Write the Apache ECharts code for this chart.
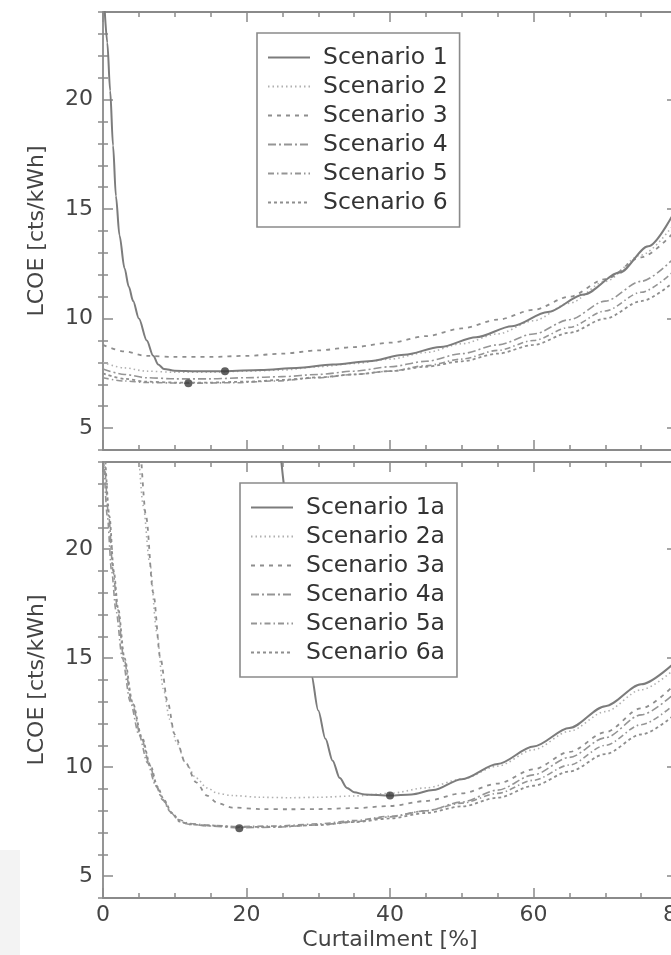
<!DOCTYPE html>
<html>
<head>
<meta charset="utf-8">
<script src="https://cdn.jsdelivr.net/npm/echarts@6/dist/echarts.min.js"></script>
<style>html,body{margin:0;padding:0;background:#fff}#c{width:671px;height:955px}</style>
</head>
<body>
<div id="c"></div>
<script>
// ---- data ----
const topNames = ['Scenario 1','Scenario 2','Scenario 3','Scenario 4','Scenario 5','Scenario 6'];
const botNames = ['Scenario 1a','Scenario 2a','Scenario 3a','Scenario 4a','Scenario 5a','Scenario 6a'];
const xTicks = [0, 20, 40, 60, 80];
const yMajor = [5, 10, 15, 20];
const yMinor = [4,6,7,8,9,11,12,13,14,16,17,18,19,21,22,23,24];

const top_s1 = [[0.2,24.3],[0.6,22.6],[1.0,20.4],[1.4,17.9],[1.8,15.6],[2.3,13.8],[3.0,12.3],[3.6,11.45],[4.2,10.8],[5,10.0],[6.1,9.0],[7,8.3],[7.7,7.9],[8.5,7.7],[10,7.62],[13,7.6],[17,7.6],[22,7.65],[27,7.75],[32,7.9],[37,8.05],[42,8.35],[47,8.7],[52,9.15],[57,9.65],[62,10.3],[67,11.1],[72,12.1],[76,13.3],[80,15.1]];
const top_s2 = [[0,8.0],[3,7.75],[6,7.6],[10,7.55],[15,7.55],[20,7.6],[25,7.65],[30,7.8],[35,7.95],[40,8.15],[45,8.45],[50,8.85],[55,9.3],[60,9.9],[65,10.7],[70,11.7],[75,12.9],[80,14.5]];
const top_s3 = [[0,8.8],[3,8.5],[6,8.3],[10,8.25],[15,8.25],[20,8.3],[25,8.4],[30,8.55],[35,8.7],[40,8.9],[45,9.2],[50,9.55],[55,9.95],[60,10.4],[65,11.0],[70,11.8],[75,12.8],[80,14.1]];
const top_s4 = [[0,7.7],[3,7.45],[6,7.3],[10,7.25],[15,7.25],[20,7.3],[25,7.35],[30,7.45],[35,7.6],[40,7.8],[45,8.05],[50,8.4],[55,8.8],[60,9.3],[65,9.95],[70,10.8],[75,11.7],[80,12.9]];
const top_s5 = [[0,7.3],[3,7.15],[6,7.08],[12,7.05],[18,7.07],[24,7.15],[30,7.3],[35,7.45],[40,7.6],[45,7.85],[50,8.15],[55,8.55],[60,9.0],[65,9.6],[70,10.35],[75,11.2],[80,12.3]];
const top_s6 = [[0,7.5],[3,7.25],[6,7.12],[10,7.08],[15,7.08],[20,7.12],[25,7.2],[30,7.32],[35,7.45],[40,7.6],[45,7.8],[50,8.05],[55,8.4],[60,8.8],[65,9.35],[70,10.0],[75,10.8],[80,11.8]];
const top_min = [[17,7.6],[11.9,7.05]];

const bot_s1 = [[24.8,24.2],[26,21.4],[27,19.0],[28,16.6],[29,14.3],[30,12.6],[31,11.3],[32,10.3],[33,9.5],[34,9.05],[35,8.85],[36.5,8.75],[40,8.7],[43,8.75],[46,8.95],[50,9.45],[55,10.15],[60,10.95],[65,11.8],[70,12.8],[75,13.8],[80,14.9]];
const bot_s2 = [[5.0,24.3],[5.6,22],[6.5,19.4],[7.5,16.2],[8.4,13.6],[9.3,12.2],[10.3,11.1],[11.5,10.2],[13,9.5],[14.5,9.05],[16,8.8],[18,8.7],[22,8.62],[26,8.6],[30,8.62],[35,8.68],[40,8.8],[45,9.05],[50,9.45],[55,10.05],[60,10.8],[65,11.65],[70,12.55],[75,13.55],[80,14.6]];
const bot_s3 = [[5.3,24.3],[6,21.5],[7,18],[8,15],[9,13],[10,11.5],[11.5,10.2],[13,9.3],[14.5,8.7],[16,8.35],[18,8.15],[22,8.08],[26,8.07],[30,8.08],[35,8.12],[40,8.22],[45,8.45],[50,8.8],[55,9.25],[60,9.9],[65,10.7],[70,11.6],[75,12.7],[80,13.9]];
const bot_s4 = [[0.2,24.3],[0.8,21.5],[1.4,19],[2,17.3],[2.9,15],[4,13],[5.3,11.4],[6.5,10.1],[7.5,9.1],[8.4,8.5],[9.5,7.9],[10.7,7.5],[12,7.38],[15,7.3],[19,7.22],[24,7.25],[30,7.35],[35,7.5],[40,7.72],[45,8.0],[50,8.4],[55,8.95],[60,9.65],[65,10.45],[70,11.35],[75,12.4],[80,13.5]];
const bot_s5 = [[0.1,24.3],[0.6,21.5],[1.2,19],[1.8,17.2],[2.7,15],[3.8,13],[5,11.5],[6.2,10.2],[7.3,9.2],[8.3,8.5],[9.4,7.95],[10.5,7.6],[12,7.42],[15,7.33],[19,7.28],[24,7.3],[30,7.4],[35,7.55],[40,7.75],[45,8.0],[50,8.35],[55,8.8],[60,9.4],[65,10.1],[70,11.0],[75,11.95],[80,13.0]];
const bot_s6 = [[0.3,24.3],[0.9,21.5],[1.5,19],[2.1,17.3],[3,15],[4.1,13],[5.4,11.4],[6.6,10.1],[7.6,9.1],[8.5,8.5],[9.6,7.9],[10.8,7.5],[12,7.38],[15,7.32],[19,7.25],[24,7.27],[30,7.35],[35,7.48],[40,7.65],[45,7.9],[50,8.2],[55,8.6],[60,9.15],[65,9.8],[70,10.6],[75,11.5],[80,12.5]];
const bot_min = [[19,7.2],[40,8.7]];

// ---- styles ----
const FONT = 'DejaVu Sans';
const AX = '#8a8a8a';
const styles = [
  {color:'#7c7c7c', width:2.0, type:'solid'},
  {color:'#b0b0b0', width:1.6, type:[1.5,3]},
  {color:'#8e8e8e', width:1.8, type:[4,5]},
  {color:'#959595', width:1.6, type:[8,3,2,3]},
  {color:'#959595', width:1.6, type:[6,3,1.5,3]},
  {color:'#8e8e8e', width:1.8, type:[3,3]}
];

const grids = [
  {left:103, top:12, width:574, height:438, outerBoundsMode:'none', containLabel:false},
  {left:103, top:462, width:574, height:436, outerBoundsMode:'none', containLabel:false}
];

const xAxes = [], yAxes = [];
grids.forEach((g, gi) => {
  ['bottom','top'].forEach(pos => {
    xAxes.push({
      gridIndex: gi, type:'value', min:0, max:80, interval:20, position:pos,
      axisLine:{show:true, onZero:false, lineStyle:{color:AX, width:1.8}},
      axisTick:{show:true, inside:true, length:10, lineStyle:{color:AX, width:1.5}},
      minorTick:{show:true, splitNumber:4, length:5, lineStyle:{color:AX, width:1.5}},
      splitLine:{show:false}, minorSplitLine:{show:false},
      axisLabel:{show: gi===1 && pos==='bottom', margin:6, fontSize:22, fontFamily:FONT, color:'#444', hideOverlap:false},
      name: (gi===1 && pos==='bottom') ? 'Curtailment [%]' : '',
      nameLocation:'middle', nameGap:31,
      nameTextStyle:{fontSize:22, fontFamily:FONT, color:'#444'}
    });
  });
  ['left','right'].forEach(pos => {
    yAxes.push({
      gridIndex: gi, type:'value', min:4, max:24, position:pos,
      axisLine:{show:true, onZero:false, lineStyle:{color:AX, width:1.8}},
      axisTick:{show:true, inside:true, length:10, customValues:yMajor, lineStyle:{color:AX, width:1.5}},
      splitLine:{show:false},
      axisLabel:{show: pos==='left', customValues:yMajor, margin:10, fontSize:22, fontFamily:FONT, color:'#444'},
      name: pos==='left' ? 'LCOE [cts/kWh]' : '',
      nameLocation:'middle', nameGap:55, nameRotate:90,
      nameTextStyle:{fontSize:22, fontFamily:FONT, color:'#444'}
    });
    yAxes.push({
      gridIndex: gi, type:'value', min:4, max:24, position:pos,
      axisLine:{show:false},
      axisTick:{show:true, inside:true, length:5, customValues:yMinor, lineStyle:{color:AX, width:1.5}},
      splitLine:{show:false},
      axisLabel:{show:false}
    });
  });
});

const series = [];
const topData = [top_s1, top_s2, top_s3, top_s4, top_s5, top_s6];
const botData = [bot_s1, bot_s2, bot_s3, bot_s4, bot_s5, bot_s6];
function addLines(names, datas, gi) {
  names.forEach((n, i) => {
    const s = styles[i];
    series.push({
      name:n, type:'line', xAxisIndex: gi*2, yAxisIndex: gi*4,
      data: datas[i], symbol:'none', smooth:0.3, smoothMonotone:'x',
      clip:true,
      lineStyle:{color:s.color, width:s.width, type:s.type},
      itemStyle:{color:s.color},
      z: i===0 ? 3 : 2
    });
  });
}
addLines(topNames, topData, 0);
addLines(botNames, botData, 1);
[top_min, bot_min].forEach((d, gi) => {
  series.push({
    type:'scatter', xAxisIndex: gi*2, yAxisIndex: gi*4, data:d,
    symbol:'circle', symbolSize:8, itemStyle:{color:'#3a3a3a'}, z:5
  });
});

function legendCfg(names, left, top) {
  return {
    data:names, orient:'vertical', left:left, top:top,
    itemWidth:42, itemHeight:14, itemGap:0,
    padding:[10,12,10,10],
    borderColor:AX, borderWidth:1.6, borderRadius:0, backgroundColor:'#fff',
    selectedMode:false, z:10,
    itemStyle:{opacity:0},
    textStyle:{fontSize:23.5, fontFamily:FONT, color:'#333', lineHeight:29, padding:[0,0,0,8]}
  };
}

const option = {
  animation:false,
  backgroundColor:'#fff',
  grid: grids,
  xAxis: xAxes,
  yAxis: yAxes,
  legend: [legendCfg(topNames, 257, 33), legendCfg(botNames, 240, 483)],
  graphic: [
    {type:'rect', left:0, top:850, shape:{width:20, height:105}, style:{fill:'#f3f3f3'}, z:-1}
  ],
  series: series
};

const chart = echarts.init(document.getElementById('c'), null, {renderer:'canvas'});
chart.setOption(option);
</script>
</body>
</html>
